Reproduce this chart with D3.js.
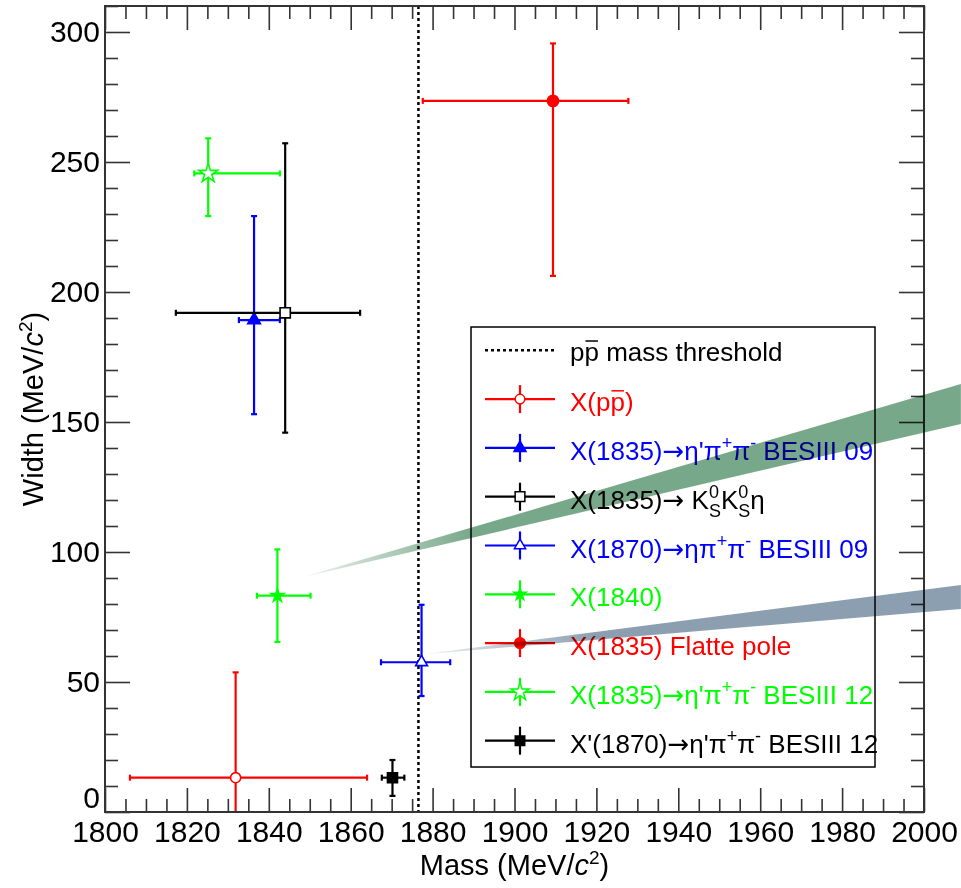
<!DOCTYPE html>
<html><head><meta charset="utf-8">
<script src="https://cdn.jsdelivr.net/npm/d3@7"></script>
<style>
body{margin:0;background:#fff}
svg{display:block}
text{font-family:"Liberation Sans",Arial,Helvetica,sans-serif}
</style>
</head><body>
<svg id="c" width="961" height="888"></svg>
<script>
// ---------------- data ----------------
const massMajorTicks = [1800,1820,1840,1860,1880,1900,1920,1940,1960,1980,2000];
const widthMajorTicks = [0,50,100,150,200,250,300];
const seriesKeys = ["Xppbar","X1835_09","X1835_KsKs","X1870_09","X1840","X1835_Flatte","X1835_12","Xp1870_12"];
const mass         = [1831.9, 1836.4, 1844.0, 1877.3, 1842.1, 1909.4, 1825.2, 1870.2];
const massErrLow   = [  25.8,    3.7,   26.7,    9.9,    5.0,   31.8,    3.4,    2.6];
const massErrHigh  = [  32.1,    6.3,   18.3,    7.0,    8.1,   18.4,   17.5,    2.9];
const widthVal     = [  13.2,  189.2,  192.0,   57.6,   83.2,  273.5,  245.6,   13.2];
const widthErrLow  = [  40.5,   36.2,   46.1,   13.0,   17.8,   67.3,   16.4,    7.0];
const widthErrHigh = [  40.5,   40.0,   65.2,   22.1,   17.8,   22.1,   13.5,    6.8];
const ppbarThreshold = 1876.54;
// legend labels (rich text segments)
const thresholdLabel = [["p"],["p","over"],[" mass threshold"]];
const seriesLabels = [
  [["X(p"],["p","over"],[")"]],
  [["X(1835)→η'π"],["+","sup"],["π"],["-","sup"],[" BESIII 09"]],
  [["X(1835)→ K"],["0","S","supsub"],["K"],["0","S","supsub"],["η"]],
  [["X(1870)→ηπ"],["+","sup"],["π"],["-","sup"],[" BESIII 09"]],
  [["X(1840)"]],
  [["X(1835) Flatte pole"]],
  [["X(1835)→η'π"],["+","sup"],["π"],["-","sup"],[" BESIII 12"]],
  [["X'(1870)→η'π"],["+","sup"],["π"],["-","sup"],[" BESIII 12"]]
];
// annotation wedges (data coordinates): tip, then right-edge top and bottom
const wedgeGreen = [[1848.4, 90.4],[2009.0,164.6],[2009.0,149.2]];
const wedgeGrey  = [[1877.3, 60.6],[2009.0, 87.3],[2009.0, 78.1]];

// ---------------- styles ----------------
const seriesColor = ["#ff0000","#0000ff","#000000","#0000ff","#00ff00","#ff0000","#00ff00","#000000"];
const seriesSymbol = [d3.symbolCircle,d3.symbolTriangle,d3.symbolSquare,d3.symbolTriangle,d3.symbolStar,d3.symbolCircle,d3.symbolStar,d3.symbolSquare];
const seriesSymSize = [80, 70, 105, 60, 50, 100, 110, 100];
const seriesFilled = [false,true,false,false,true,true,false,true];

const svg = d3.select("#c");
const L=105, R=924, T=6, B=812;
const x = d3.scaleLinear().domain([1800,2000]).range([L,R]);
const y = d3.scaleLinear().domain([0,310]).range([B,T]);
const axisColor = "#333";

const defs = svg.append("defs");
defs.append("clipPath").attr("id","plotclip").append("rect")
  .attr("x",L).attr("y",T).attr("width",R-L).attr("height",B-T);

const massMinor = d3.range(1800,2000.1,5).filter(v=>v%20!==0);
const widthMinor = d3.range(0,310.1,10).filter(v=>v%50!==0);

function styleAxis(g){
  g.select(".domain").remove();
  g.selectAll(".tick line").attr("stroke",axisColor).attr("stroke-width",1.6);
  g.selectAll("text").attr("fill","#000").style("font-size","30px");
}
svg.append("g").attr("transform",`translate(0,${B})`)
  .call(d3.axisBottom(x).tickValues(massMajorTicks).tickSize(-24).tickPadding(9).tickFormat(d3.format("d")))
  .call(styleAxis);
svg.append("g").attr("transform",`translate(0,${B})`)
  .call(d3.axisBottom(x).tickValues(massMinor).tickSize(-13).tickFormat(""))
  .call(styleAxis);
svg.append("g").attr("transform",`translate(0,${T})`)
  .call(d3.axisTop(x).tickValues(massMajorTicks).tickSize(-24).tickFormat(""))
  .call(styleAxis);
svg.append("g").attr("transform",`translate(0,${T})`)
  .call(d3.axisTop(x).tickValues(massMinor).tickSize(-13).tickFormat(""))
  .call(styleAxis);
const leftAx = svg.append("g").attr("transform",`translate(${L},0)`)
  .call(d3.axisLeft(y).tickValues(widthMajorTicks).tickSize(-25).tickPadding(5).tickFormat(d3.format("d")))
  .call(styleAxis);
leftAx.selectAll(".tick text").filter(d=>d===0).attr("dy","-0.14em");
svg.append("g").attr("transform",`translate(${L},0)`)
  .call(d3.axisLeft(y).tickValues(widthMinor).tickSize(-13).tickFormat(""))
  .call(styleAxis);
svg.append("g").attr("transform",`translate(${R},0)`)
  .call(d3.axisRight(y).tickValues(widthMajorTicks).tickSize(-25).tickFormat(""))
  .call(styleAxis);
svg.append("g").attr("transform",`translate(${R},0)`)
  .call(d3.axisRight(y).tickValues(widthMinor).tickSize(-13).tickFormat(""))
  .call(styleAxis);

// axis titles
const xt = svg.append("text").attr("x",(L+R)/2).attr("y",875).attr("text-anchor","middle").style("font-size","29px");
xt.append("tspan").text("Mass (MeV/");
xt.append("tspan").attr("font-style","italic").text("c");
xt.append("tspan").attr("dy",-11).style("font-size","19px").text("2");
xt.append("tspan").attr("dy",11).text(")");
const yt = svg.append("text").attr("transform",`translate(43,${(T+B)/2}) rotate(-90)`).attr("text-anchor","middle").style("font-size","29px");
yt.append("tspan").text("Width (MeV/");
yt.append("tspan").attr("font-style","italic").text("c");
yt.append("tspan").attr("dy",-11).style("font-size","19px").text("2");
yt.append("tspan").attr("dy",11).text(")");

// threshold line
svg.append("line").attr("x1",x(ppbarThreshold)).attr("x2",x(ppbarThreshold))
  .attr("y1",T).attr("y2",B).attr("stroke","#000").attr("stroke-width",2.5).attr("stroke-dasharray","3,3");

// error bars and markers
const plot = svg.append("g").attr("clip-path","url(#plotclip)");
const cap = 3;
seriesKeys.forEach((k,i)=>{
  const c = seriesColor[i];
  const g = plot.append("g");
  const cx = x(mass[i]), cy = y(widthVal[i]);
  const xl = x(mass[i]-massErrLow[i]), xh = x(mass[i]+massErrHigh[i]);
  const yl = y(widthVal[i]-widthErrLow[i]), yh = y(widthVal[i]+widthErrHigh[i]);
  const ln = (a,b,c2,d)=>g.append("line").attr("x1",a).attr("y1",b).attr("x2",c2).attr("y2",d).attr("stroke",c).attr("stroke-width",2.2);
  ln(xl,cy,xh,cy); ln(cx,yl,cx,yh);
  ln(xl,cy-cap,xl,cy+cap); ln(xh,cy-cap,xh,cy+cap);
  ln(cx-cap,yl,cx+cap,yl); ln(cx-cap,yh,cx+cap,yh);
  g.append("path").attr("d",d3.symbol().type(seriesSymbol[i]).size(seriesSymSize[i])())
    .attr("transform",`translate(${cx},${cy})`)
    .attr("fill",seriesFilled[i]?c:"#fff").attr("stroke",c).attr("stroke-width",1.6);
});

// legend
const lg = svg.append("g");
const LX0=471, LX1=875, LY0=327, LY1=767;
lg.append("rect").attr("x",LX0).attr("y",LY0).attr("width",LX1-LX0).attr("height",LY1-LY0)
  .attr("fill","#fff").attr("stroke","#000").attr("stroke-width",1.5);
const rowY0 = 350.3, rowStep = 48.8, fs = 26, textX = 570;

function richText(gsel, segs, xx, yy, color){
  const t = gsel.append("text").attr("x",xx).attr("y",yy).attr("fill",color).style("font-size",fs+"px");
  let off = 0, idx = 0; const overs = [];
  const small = Math.round(fs*0.7);
  const plain = (str, dy)=>{
    const parts = str.split("→");
    parts.forEach((p,j)=>{
      if(j>0){ t.append("tspan").attr("dy",dy).style("font-family","'DejaVu Sans'").text("→"); dy=0; idx+=1; }
      if(p.length){ t.append("tspan").attr("dy",dy).text(p); dy=0; idx+=p.length; }
    });
  };
  segs.forEach(s=>{
    if(s.length===1){
      plain(s[0], -off); off=0;
    } else if(s[1]==="over"){
      t.append("tspan").attr("dy",-off).text(s[0]); off=0; overs.push(idx); idx+=s[0].length;
    } else if(s[1]==="sup"){
      const d=-0.42*fs; t.append("tspan").attr("dy",d-off).style("font-size",small+"px").text(s[0]); off=d; idx+=s[0].length;
    } else if(s[2]==="supsub"){
      const d1=-0.42*fs, d2=0.3*fs;
      const sp=t.append("tspan").attr("dy",d1-off).style("font-size",small+"px").text(s[0]);
      const w=sp.node().getComputedTextLength();
      t.append("tspan").attr("dx",-w).attr("dy",d2-d1).style("font-size",small+"px").text(s[1]);
      off=d2; idx+=s[0].length+s[1].length;
    }
  });
  overs.forEach(ci=>{
    const e = t.node().getExtentOfChar(ci);
    gsel.append("line").attr("x1",e.x+1).attr("x2",e.x+e.width-1)
      .attr("y1",yy-0.78*fs).attr("y2",yy-0.78*fs).attr("stroke",color).attr("stroke-width",1.5);
  });
  return t;
}
lg.append("line").attr("x1",485).attr("x2",555).attr("y1",rowY0).attr("y2",rowY0)
  .attr("stroke","#000").attr("stroke-width",2.5).attr("stroke-dasharray","3,3");
richText(lg, thresholdLabel, textX, rowY0+11, "#000");
seriesKeys.forEach((k,i)=>{
  const ry = rowY0 + rowStep*(i+1), c = seriesColor[i];
  lg.append("line").attr("x1",485).attr("x2",555).attr("y1",ry).attr("y2",ry).attr("stroke",c).attr("stroke-width",2.2);
  lg.append("line").attr("x1",520).attr("x2",520).attr("y1",ry-14).attr("y2",ry+14).attr("stroke",c).attr("stroke-width",2.2);
  lg.append("path").attr("d",d3.symbol().type(seriesSymbol[i]).size(seriesSymSize[i]*0.9)())
    .attr("transform",`translate(520,${ry})`)
    .attr("fill",seriesFilled[i]?c:"#fff").attr("stroke",c).attr("stroke-width",1.5);
  richText(lg, seriesLabels[i], textX, ry+12, c);
});

// frame
svg.append("rect").attr("x",L).attr("y",T).attr("width",R-L).attr("height",B-T)
  .attr("fill","none").attr("stroke",axisColor).attr("stroke-width",2);

// annotation wedges (multiply blend)
function wedge(pts, color, id){
  const tip=[x(pts[0][0]),y(pts[0][1])];
  const gr = defs.append("linearGradient").attr("id",id).attr("gradientUnits","userSpaceOnUse")
    .attr("x1",tip[0]).attr("y1",tip[1]).attr("x2",tip[0]+170).attr("y2",tip[1]-40);
  gr.append("stop").attr("offset","0").attr("stop-color",color).attr("stop-opacity",0.15);
  gr.append("stop").attr("offset","1").attr("stop-color",color).attr("stop-opacity",1);
  svg.append("path")
    .attr("d",d3.line()(pts.map(p=>[x(p[0]),y(p[1])]))+"Z")
    .attr("fill",`url(#${id})`).style("mix-blend-mode","multiply");
}
wedge(wedgeGreen,"#78a88a","gG");
wedge(wedgeGrey,"#8c9fb0","gB");
</script>
</body></html>
